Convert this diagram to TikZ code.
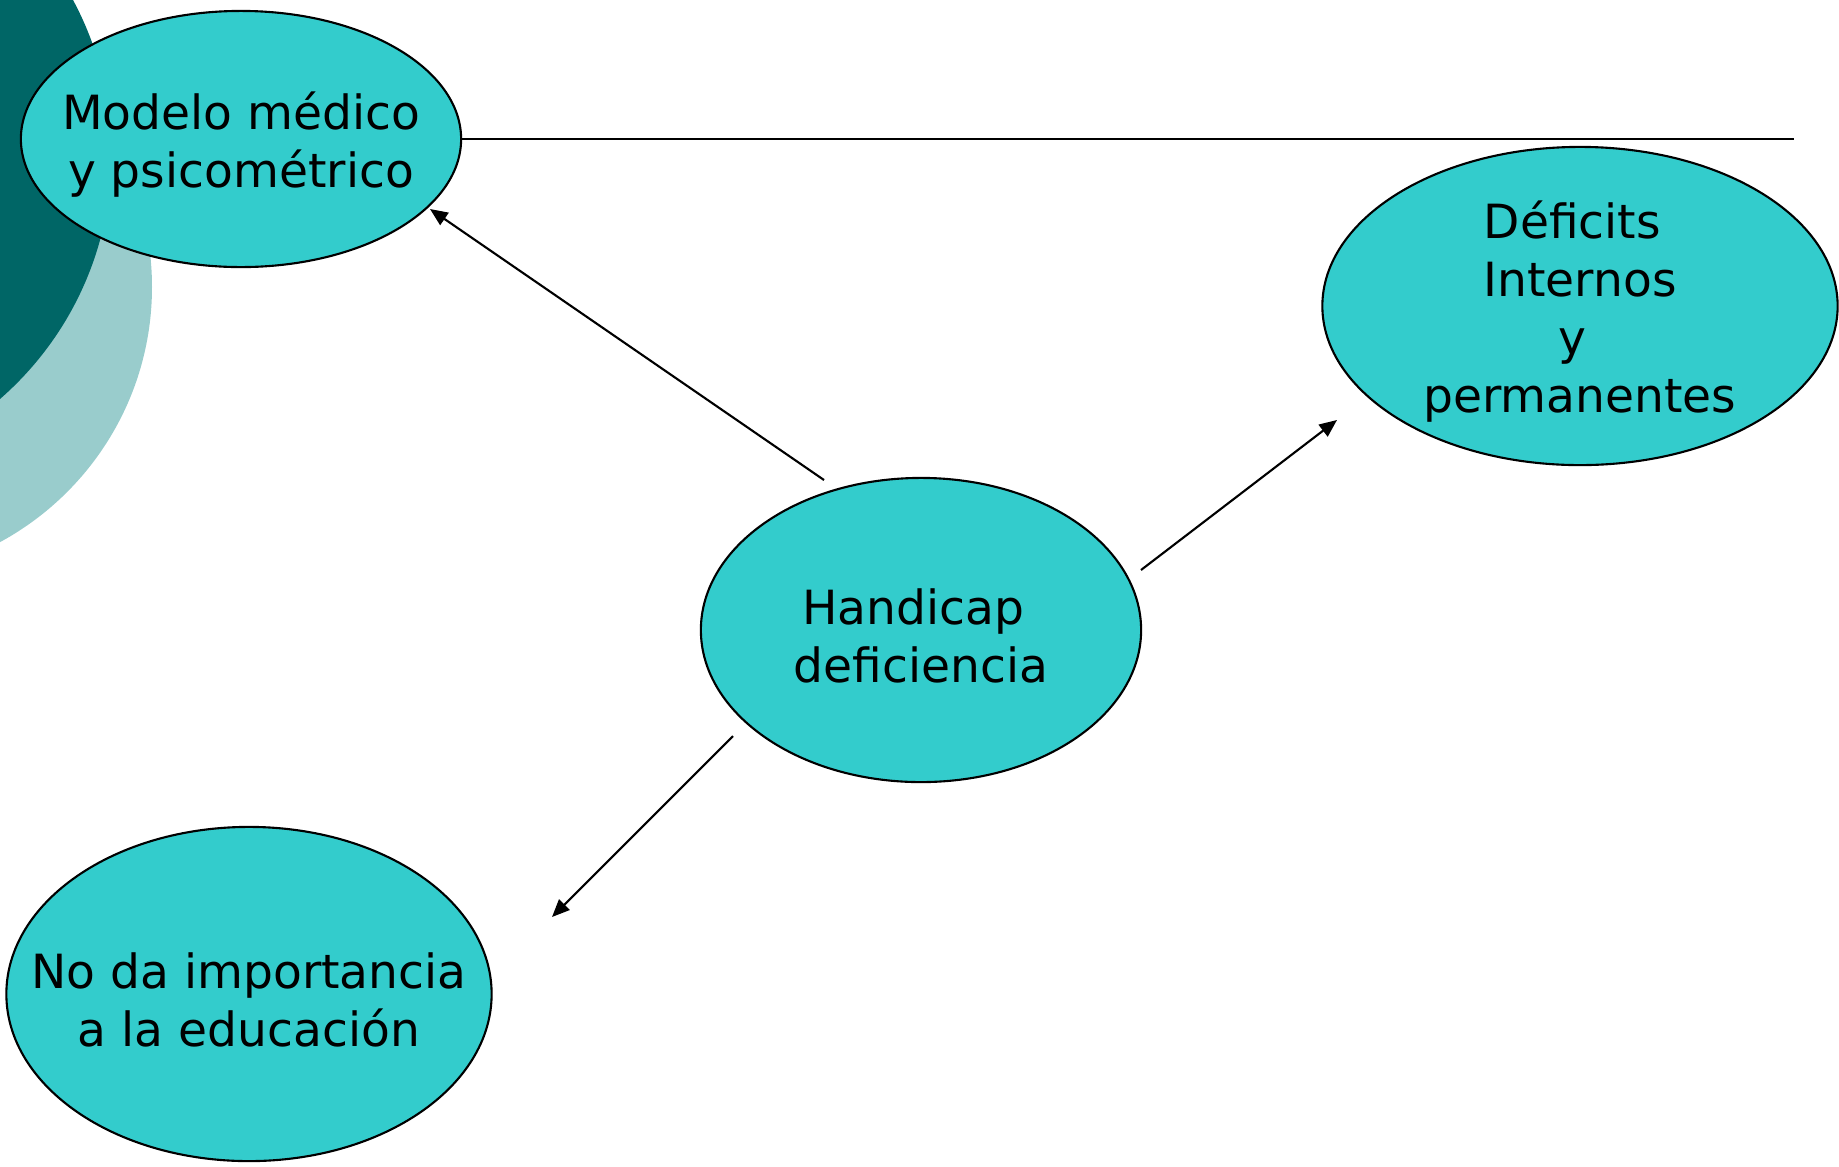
\documentclass[tikz,border=0pt]{standalone}
\usepackage{fontspec}
\setmainfont{DejaVu Sans}
\usetikzlibrary{shapes.geometric,arrows.meta}
\definecolor{turquesa}{HTML}{33CCCC}
\definecolor{tealoscuro}{HTML}{006666}
\definecolor{tealclaro}{HTML}{99CCCC}
\tikzset{
  burbuja/.style={ellipse, draw, fill=turquesa, line width=0.6pt, inner sep=0pt},
  texto/.style={align=center, yshift=-1.6pt, font=\fontsize{13.4}{16.5}\selectfont},
  flecha/.style={-{Triangle[length=5pt,width=4.2pt]}, line width=0.6pt}
}
\begin{document}
\begin{tikzpicture}[x=0.01cm,y=-0.01cm]
  \useasboundingbox (0,0) rectangle (1839,1166);
  % fondo
  \begin{scope}
    \clip (0,0) rectangle (1839,1166);
    \fill[tealclaro] (-138,287) circle (290);
    \fill[tealoscuro] (-213.6,153.75) circle (325.2);
  \end{scope}
  \draw
    (241,139) node[burbuja, minimum width=4.40cm, minimum height=2.56cm,
      label={[texto]center:Modelo médico\\y psicométrico}] (modelo){}
    (1580,306) node[burbuja, minimum width=5.15cm, minimum height=3.18cm,
      label={[texto]center:Déficits\kern.32em\\Internos\\y\kern.32em\\permanentes}] (deficits){}
    (921,630) node[burbuja, minimum width=4.40cm, minimum height=3.04cm,
      label={[texto]center:Handicap\kern.32em\\deficiencia}] (handicap){}
    (249,994) node[burbuja, minimum width=4.85cm, minimum height=3.34cm,
      label={[texto]center:No da importancia\\a la educación}] (educacion){};
  \coordinate (linea) at (1794,139);
  \coordinate (a1) at (824,480);
  \coordinate (b1) at (430,209);
  \coordinate (a2) at (1141,570);
  \coordinate (b2) at (1337,420);
  \coordinate (a3) at (733,736);
  \coordinate (b3) at (552,917);
  \begin{scope}[line width=0.6pt]
    \draw (modelo.east) -- (linea);
    \draw[flecha] (a1) -- (b1);
    \draw[flecha] (a2) -- (b2);
    \draw[flecha] (a3) -- (b3);
  \end{scope}
\end{tikzpicture}
\end{document}
